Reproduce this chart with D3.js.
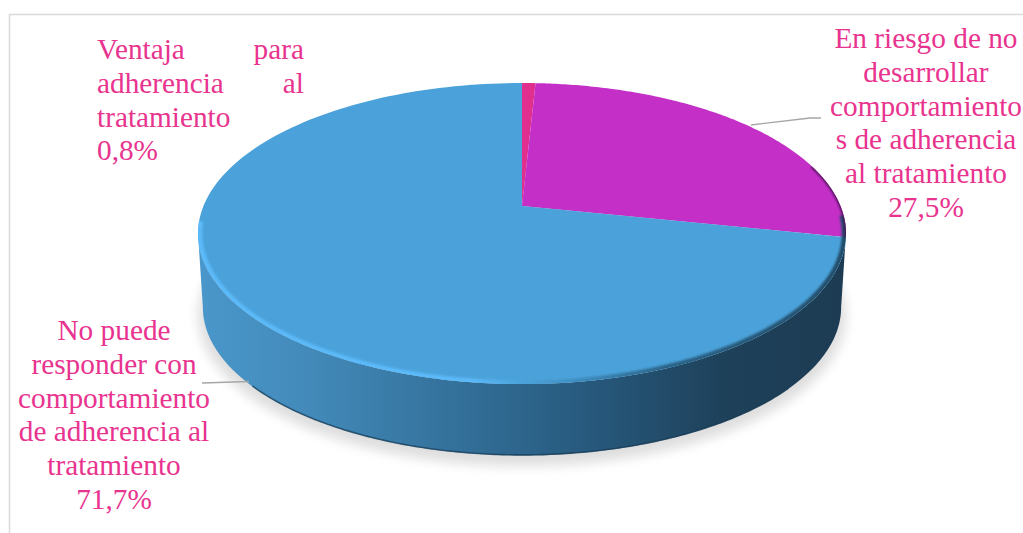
<!DOCTYPE html>
<html><head><meta charset="utf-8">
<script src="https://cdn.jsdelivr.net/npm/d3@7"></script>
<style>html,body{margin:0;background:#fff}svg{display:block}text{font-family:"Liberation Serif",serif;font-size:29.3px;fill:#e8348f}</style>
</head><body><svg id="c" width="1023" height="533"></svg>
<script>
const categories = ["Ventaja para adherencia al tratamiento", "En riesgo de no desarrollar comportamientos de adherencia al tratamiento", "No puede responder con comportamiento de adherencia al tratamiento"];
const values = [0.8, 27.5, 71.7];
const sliceColors = ["#e02f8c", "#c42fc8", "#4ba2da"];
const centerLabels = [
  {x: 926, y0: 48, lines: ["En riesgo de no", "desarrollar", "comportamiento", "s de adherencia", "al tratamiento", "27,5%"]},
  {x: 114, y0: 340, lines: ["No puede", "responder con", "comportamiento", "de adherencia al", "tratamiento", "71,7%"]}
];
const justifiedLabel = [["Ventaja", "para"], ["adherencia", "al"], ["tratamiento"], ["0,8%"]];

const svg = d3.select("#c");
const defs = svg.append("defs");

// Perspective projection of the tilted disc onto the page
const W = 324, cx = 522, cy = 206, k = 0.183, Ry = 145.5, Rx = W * Math.sqrt(1 - k * k), depth = 74, baseScale = 0.985;
function project(a, drop = 0, scale = 1) {
  const u = Math.sin(a), v = -Math.cos(a), d = 1 - k * v;
  return [cx + scale * Rx * u / d, cy + scale * Ry * v / d + drop];
}
const line = d3.line();
const sampled = (a0, a1, drop = 0, scale = 1) => d3.range(0, 161).map(i => project(a0 + (a1 - a0) * i / 160, drop, scale));
const TAU = Math.PI * 2;
const edgeA = Math.acos(-k);            // angle of the widest point on the right
const edgeB = TAU - edgeA;              // and on the left

const topPath = line(sampled(0, TAU)) + "Z";

// Side wall and bevel gradients
const sideStops = [[0, "#4a97cb"], [0.18, "#4289b8"], [0.4, "#33709a"], [0.62, "#26577a"], [0.82, "#1e4059"], [1, "#1d3c54"]];
const grad = defs.append("linearGradient").attr("id", "side").attr("gradientUnits", "userSpaceOnUse")
  .attr("x1", 199).attr("x2", 846).attr("y1", 0).attr("y2", 0);
sideStops.forEach(s => grad.append("stop").attr("offset", s[0]).attr("stop-color", s[1]));
const bev = defs.append("linearGradient").attr("id", "bevel").attr("gradientUnits", "userSpaceOnUse")
  .attr("x1", 199).attr("x2", 846).attr("y1", 0).attr("y2", 0);
[[0, "#5cbaf9"], [0.42, "#5cbaf9"], [0.5, "#4ba2da"], [0.58, "#3f8fc2"], [0.72, "#2c6488"], [1, "#234d6a"]]
  .forEach(s => bev.append("stop").attr("offset", s[0]).attr("stop-color", s[1]));
defs.append("filter").attr("id", "blurWide").attr("x", "-10%").attr("y", "-20%").attr("width", "120%").attr("height", "140%")
  .append("feGaussianBlur").attr("stdDeviation", 6);
const soft = defs.append("filter").attr("id", "blurThin").attr("filterUnits", "userSpaceOnUse")
  .attr("x", 0).attr("y", 0).attr("width", 1023).attr("height", 533);
soft.append("feGaussianBlur").attr("stdDeviation", 1.3);
defs.append("clipPath").attr("id", "topClip").append("path").attr("d", topPath);

// Frame
svg.append("path").attr("d", "M9.5,533V14.5H1023").attr("fill", "none").attr("stroke", "#d9d9d9").attr("stroke-width", 1.5);

// Soft shadow under the pie
svg.append("path").attr("d", line(sampled(0, TAU, depth + 8, 1)) + "Z").attr("fill", "#000").attr("opacity", 0.13).attr("filter", "url(#blurWide)");

// Side wall: from the widest points of the top face down around the base
const wall = sampled(edgeA, edgeB).concat(sampled(edgeB, edgeA, depth, baseScale));
svg.append("path").attr("d", line(wall) + "Z").attr("fill", "url(#side)");
svg.append("path").attr("d", line(sampled(2.3, 4.0, depth - 0.5, baseScale)))
  .attr("fill", "none").attr("stroke", "#183c56").attr("stroke-width", 1.6).attr("opacity", 0.7);

// Slices from the shared pie layout
const arcs = d3.pie().sort(null).value(d => d)(values);
arcs.forEach((a, i) => {
  const pts = [project(0, 0, 0)].concat(sampled(a.startAngle, a.endAngle));
  svg.append("path").attr("d", line(pts) + "Z").attr("fill", sliceColors[i]);
});

// Bevel along the near rim, kept inside the top face
const rim = svg.append("g").attr("clip-path", "url(#topClip)");
rim.append("path").attr("d", line(sampled(edgeA - 0.12, edgeB + 0.08, 0, 0.996)))
  .attr("fill", "none").attr("stroke", "url(#bevel)").attr("stroke-width", 6).attr("filter", "url(#blurThin)");
rim.append("path").attr("d", line(sampled(arcs[1].endAngle - 0.5, arcs[1].endAngle)))
  .attr("fill", "none").attr("stroke", "#4a1455").attr("stroke-width", 3).attr("filter", "url(#blurThin)");

// Leader lines
const leaders = [[[751, 125], [810, 118], [821, 118]], [[202, 383], [249, 381.5]]];
leaders.forEach(l => svg.append("path").attr("d", line(l)).attr("fill", "none").attr("stroke", "#a6a6a6").attr("stroke-width", 1.3));

// Labels
centerLabels.forEach(l => l.lines.forEach((t, i) => svg.append("text").attr("x", l.x).attr("y", l.y0 + i * 33.8).attr("text-anchor", "middle").text(t)));
justifiedLabel.forEach((row, i) => {
  const y = 59 + i * 33.8;
  svg.append("text").attr("x", 97).attr("y", y).text(row[0]);
  if (row[1]) svg.append("text").attr("x", 304).attr("y", y).attr("text-anchor", "end").text(row[1]);
});
</script></body></html>
